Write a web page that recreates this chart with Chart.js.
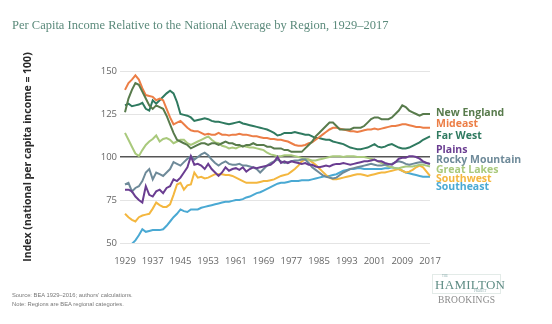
<!DOCTYPE html>
<html>
<head>
<meta charset="utf-8">
<script src="https://cdn.jsdelivr.net/npm/chart.js@4.4.1/dist/chart.umd.min.js"></script>
<style>
  html, body { margin: 0; padding: 0; background: #fff; }
  #wrap { position: relative; width: 552px; height: 324px; overflow: hidden; background: #fff; }
  #chart { position: absolute; left: 0; top: 0; }
  .title { position: absolute; left: 12px; top: 18px; font: 12.5px "Liberation Serif", serif; color: #5b8a7b; white-space: nowrap; }
  .notes { position: absolute; left: 12px; top: 291px; font: 5.8px "Liberation Sans", sans-serif; color: #777; line-height: 8.5px; }
  .logo { position: absolute; left: 432px; top: 274px; width: 67px; height: 18px; border: 1px solid #e3ebe8; }
  .logo .the { position: absolute; left: 9px; top: -1px; font: 3px "Liberation Serif", serif; color: #8aa; }
  .logo .ham { position: absolute; left: 2px; top: 2px; font: 13px "Liberation Serif", serif; color: #5f8d85; letter-spacing: 0.3px; }
  .logo .proj { position: absolute; left: 41px; top: 14px; font: 3px "Liberation Serif", serif; color: #8aa; }
  .brk { position: absolute; left: 438px; top: 295px; font: 9.5px "Liberation Serif", serif; color: #8a8a8a; letter-spacing: 0.2px; }
</style>
</head>
<body>
<div id="wrap">
  <canvas id="chart" width="552" height="324"></canvas>
  <div class="title">Per Capita Income Relative to the National Average by Region, 1929–2017</div>
  <div class="notes">Source: BEA 1929–2016; authors' calculations.<br>Note: Regions are BEA regional categories.</div>
  <div class="logo"><span class="the">THE</span><span class="ham">HAMILTON</span><span class="proj">PROJECT</span></div>
  <div class="brk">BROOKINGS</div>
</div>
<script>
// regions, index of per capita income (US = 100), one value per year 1929-2017
var regions = ['New England', 'Mideast', 'Far West', 'Plains', 'Rocky Mountain', 'Great Lakes', 'Southwest', 'Southeast'];
var colors = ['#587b4c', '#ec7e46', '#2f7a60', '#6a3d91', '#6e8a99', '#a9c97c', '#f4b73f', '#4aa9d3'];

var years = [];
for (var yr = 1929; yr <= 2017; yr++) years.push(yr);

var xTicks = [1929, 1937, 1945, 1953, 1961, 1969, 1977, 1985, 1993, 2001, 2009, 2017];
var yTicks = [50, 75, 100, 125, 150];

var newEngland = [126, 134, 139, 143, 142, 138, 134, 130, 128, 130, 129, 128, 124, 119, 114, 110, 109, 108, 107, 105,
  106, 107, 108, 108, 107, 108, 108, 107, 108, 109, 108, 108, 107, 107, 106, 107, 107, 108, 107, 107,
  107, 106, 106, 105, 105, 105, 104, 104, 103, 103, 103, 103, 105, 107, 109, 112, 114, 116, 118, 120,
  120, 118, 116, 116, 116, 116, 117, 117, 117, 118, 120, 122, 123, 123, 122, 122, 122, 123, 125, 127,
  130, 129, 127, 126, 125, 124, 125, 125, 125];
var mideast = [139, 143, 145, 147.5, 145, 140, 136, 135.5, 135, 133, 134, 133, 128, 123, 119, 120, 121, 119, 117, 115.5,
  115, 115, 114, 113, 113.5, 113, 113, 114, 113, 113, 112.5, 113, 113, 113.5, 113, 113, 112.5, 112, 112, 111.5,
  111, 111, 110.5, 110.5, 110, 110, 109.5, 109, 108, 107, 106.5, 106.5, 107, 108, 108.5, 110, 111.5, 113, 114.5, 116,
  117, 117, 116.5, 116, 115.5, 115, 115, 114.5, 115, 115.5, 116, 116, 116.5, 116, 116.5, 117, 117.5, 118, 118, 118.5,
  119, 119, 118.5, 118, 117.5, 117.5, 117, 117, 117];
var farWest = [130, 131, 129.5, 130, 130.5, 131.5, 128, 127, 133, 131, 133, 135, 137, 138.5, 137, 132, 125, 124.5, 124, 123,
  121, 121.5, 122, 122.5, 122, 121, 120.5, 120.5, 120, 119.5, 119, 119.5, 120, 120.5, 119.5, 119, 118.5, 118, 117.5, 117,
  116.5, 116, 115, 114, 112.5, 113, 114, 114, 114, 114.5, 114, 113.5, 113, 113, 112, 111, 111, 110.5, 110, 110,
  109, 108.5, 108, 107.5, 106.5, 105.5, 105, 104.5, 104.5, 105, 105.5, 106.5, 107.5, 106, 105.5, 106, 107, 107.5, 106.5, 105.5,
  105, 105, 105.5, 106.5, 107.5, 108.5, 110, 111, 112];
var plains = [81, 81, 80, 77, 75, 73.5, 83, 78, 77, 80, 81, 79, 82, 83, 87, 86, 88, 91, 94, 100.5,
  95.5, 96, 95, 93, 96, 93, 91, 89, 91, 94, 92, 93, 93.5, 92.5, 94, 91.5, 93, 94, 93.5, 94,
  94.5, 95, 95.5, 97, 100, 96.5, 97.5, 96.5, 97.5, 97, 96.5, 96, 96.5, 95.5, 95.5, 94.5, 94, 94.5, 95, 94.5,
  95.5, 96, 96, 96.5, 96, 95.5, 96, 96.5, 97, 97.5, 97.5, 98, 98.5, 97.5, 97.5, 96.5, 96, 95.5, 97, 99,
  99.5, 99.5, 100.5, 100.5, 100, 99, 97.5, 96.5, 96];
var rockyMountain = [84, 85, 80, 82, 83, 86, 91, 93, 87, 91, 90, 89, 91, 93, 97, 96, 95, 97, 99, 100.5,
  98.5, 100, 101.5, 102.5, 101, 98.5, 96.5, 95, 96.5, 97.5, 96, 95.5, 95.5, 96, 95, 95, 94.5, 94, 93, 91,
  93, 95, 96.5, 97.5, 98.5, 97.5, 96.5, 97, 97.5, 98, 98, 98.5, 98.5, 96.5, 94, 92.5, 91, 89.5, 88.5, 88,
  87.5, 88, 89.5, 91, 92, 93, 93.5, 94, 94.5, 95, 95.5, 96, 95.5, 95, 95, 95.5, 95.5, 96, 97, 97.5,
  97, 96, 95.5, 96, 96.5, 97, 97, 96.5, 96];
var greatLakes = [114, 110, 106, 102, 100.5, 104, 107, 109, 110.5, 112.5, 109, 110.5, 111, 110, 108, 109, 110, 110, 108, 107,
  108, 109, 110, 111, 112, 110, 108.5, 108, 106.5, 106, 105, 105.5, 105, 106, 106.5, 106, 105.5, 105.5, 105, 104.5,
  104, 102.5, 101.5, 101, 100.5, 100.5, 101, 101, 101, 100.5, 100, 99.5, 99, 98.5, 98, 98, 98.5, 99, 99.5, 100,
  100.5, 100.5, 100.5, 100, 100.5, 100.5, 100.5, 100, 100, 100, 99.5, 99, 98.5, 97.5, 96.5, 95.5, 94.5, 94, 93.5, 93.5,
  94, 94.5, 94.5, 94.5, 95, 95.5, 95.5, 95, 94.5];
var southwest = [67, 65, 63.5, 62.5, 65, 66, 66.5, 67, 70, 73.5, 72, 71, 71, 72.5, 78, 84, 85, 81, 83.5, 84,
  91, 88, 88.5, 87.5, 88, 89, 90, 90, 90, 89.5, 89.5, 89, 88, 87, 86, 85, 85, 85, 85, 85.5,
  86, 86, 86.5, 87, 88, 89, 89.5, 90, 91.5, 93, 95, 97.5, 98.5, 98.5, 97, 95.5, 93.5, 91.5, 89.5, 88,
  87, 87, 87.5, 88, 88.5, 89, 89.5, 90, 90, 89.5, 89, 89.5, 90, 90.5, 91, 91, 91.5, 92, 92.5, 93,
  92, 91, 91.5, 92.5, 94, 95, 94, 91.5, 89];
var southeast = [48, 47.5, 49.5, 51.5, 54.5, 58, 56.5, 57, 57.5, 57.5, 57.5, 58, 60, 62.5, 65, 67, 69.5, 68.5, 68, 69.5,
  69.5, 69.5, 70.5, 71, 71.5, 72, 72.5, 73, 73.5, 74, 74, 74.5, 75, 75, 75.5, 76.5, 77, 78, 79, 79.5,
  80.5, 81.5, 82.5, 83.5, 84.5, 85, 85, 85.5, 86, 86, 86, 86.5, 86.5, 86.5, 87, 87.5, 88, 88.5, 89, 89,
  89.5, 90, 91, 92, 92.5, 93, 93, 93.5, 93.5, 93, 93, 93, 93, 93, 93, 93.5, 93.5, 94, 93.5, 93,
  92, 91, 90.5, 90, 89.5, 89, 88.5, 88.5, 88.5];

var series = [newEngland, mideast, farWest, plains, rockyMountain, greatLakes, southwest, southeast];

// names written to the right of the plot, spread out so they do not collide
var endLabels = {
  id: 'endLabels',
  afterDatasetsDraw: function (chart, args, opts) {
    var ctx = chart.ctx;
    var yScale = chart.scales.y;
    ctx.save();
    ctx.font = '700 10.5px "Open Sans", sans-serif';
    ctx.textBaseline = 'middle';
    ctx.textAlign = 'left';
    chart.data.datasets.forEach(function (ds, i) {
      ctx.fillStyle = ds.borderColor;
      ctx.fillText(ds.label, chart.chartArea.right + 6, yScale.getPixelForValue(opts.at[i]));
    });
    ctx.restore();
  }
};

var datasets = regions.map(function (name, i) {
  return {
    label: name,
    data: series[i],
    borderColor: colors[i],
    backgroundColor: colors[i],
    borderWidth: 2,
    pointRadius: 0,
    tension: 0,
    fill: false
  };
});

new Chart(document.getElementById('chart'), {
  type: 'line',
  data: { labels: years, datasets: datasets },
  options: {
    responsive: false,
    animation: false,
    layout: { padding: { left: 20, right: 122, top: 71, bottom: 60 } },
    plugins: {
      legend: { display: false },
      tooltip: { enabled: false },
      endLabels: { at: [125.6, 119, 112.3, 103.9, 98.1, 92.3, 87, 82.4] }
    },
    scales: {
      x: {
        grid: { display: false },
        border: { display: false },
        ticks: {
          autoSkip: false,
          maxRotation: 0,
          padding: 5,
          color: '#666',
          font: { family: '"Open Sans", sans-serif', size: 9.5 },
          callback: function (value) {
            var label = this.getLabelForValue(value);
            return xTicks.indexOf(label) >= 0 ? String(label) : null;
          }
        },
        afterFit: function (scale) { scale.height = 21; }
      },
      y: {
        min: 50,
        max: 150,
        afterBuildTicks: function (scale) {
          scale.ticks = yTicks.map(function (v) { return { value: v }; });
        },
        border: { display: false },
        grid: {
          tickLength: 5,
          color: function (c) { return c.tick && c.tick.value === 100 ? '#555' : '#e4e4e4'; },
          lineWidth: function (c) { return c.tick && c.tick.value === 100 ? 1.5 : 1; }
        },
        ticks: {
          padding: 3,
          color: '#666',
          font: { family: '"Open Sans", sans-serif', size: 9.5 }
        },
        title: {
          display: true,
          text: 'Index (national per capita income = 100)',
          color: '#2a2a2a',
          padding: { top: 2, bottom: 2 },
          font: { family: '"Open Sans", sans-serif', size: 10.5, weight: '700' }
        },
        afterFit: function (scale) { scale.width = 105; }
      }
    }
  },
  plugins: [endLabels]
});
</script>
</body>
</html>
